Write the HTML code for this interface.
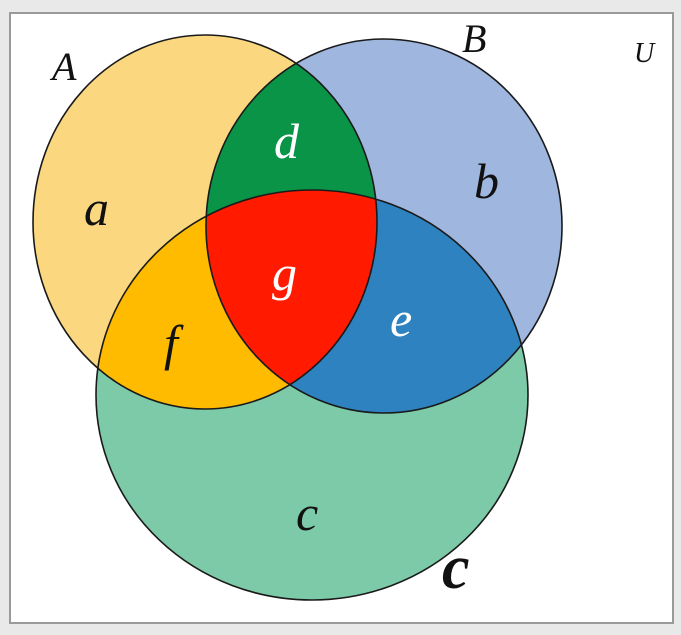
<!DOCTYPE html>
<html><head><style>
html,body{margin:0;padding:0;background:#e9e9e9;}
svg{display:block;}
text{font-family:"Liberation Serif",serif;font-style:italic;}
</style></head><body>
<svg width="681" height="635" viewBox="0 0 681 635" xmlns="http://www.w3.org/2000/svg">
<defs>
<clipPath id="cA"><ellipse cx="205" cy="222" rx="172" ry="187"/></clipPath>
<clipPath id="cB"><ellipse cx="384" cy="226" rx="178" ry="187"/></clipPath>
<clipPath id="cC"><ellipse cx="312" cy="395" rx="216" ry="205"/></clipPath>
</defs>
<rect x="0" y="0" width="681" height="635" fill="#e9e9e9"/>
<rect x="10" y="13" width="663" height="610" fill="#ffffff" stroke="#9a9a9a" stroke-width="2"/>
<ellipse cx="312" cy="395" rx="216" ry="205" fill="#7ccaa7"/>
<ellipse cx="384" cy="226" rx="178" ry="187" fill="#9fb6de"/>
<ellipse cx="205" cy="222" rx="172" ry="187" fill="#fbd880"/>
<g clip-path="url(#cA)"><ellipse cx="312" cy="395" rx="216" ry="205" fill="#ffbb00"/><ellipse cx="384" cy="226" rx="178" ry="187" fill="#0a9447"/></g>
<g clip-path="url(#cB)"><ellipse cx="312" cy="395" rx="216" ry="205" fill="#2e82bf"/></g>
<g clip-path="url(#cA)"><g clip-path="url(#cB)"><ellipse cx="312" cy="395" rx="216" ry="205" fill="#ff1a00"/></g></g>
<g fill="none" stroke="#1a1a1a" stroke-width="1.6">
<ellipse cx="205" cy="222" rx="172" ry="187"/>
<ellipse cx="384" cy="226" rx="178" ry="187"/>
<ellipse cx="312" cy="395" rx="216" ry="205"/>
</g>
<g font-size="40" fill="#111">
<text x="52" y="80">A</text>
<text x="462" y="52">B</text>
<text x="634" y="62" font-size="28">U</text>
<text x="84" y="225" font-size="50">a</text>
<text x="474" y="198" font-size="50">b</text>
<text x="164" y="360" font-size="50">f</text>
<text x="296" y="530" font-size="50">c</text>
<text x="442" y="588" font-size="62" font-weight="bold">c</text>
</g>
<g font-size="50" fill="#ffffff">
<text x="274" y="158">d</text>
<text x="272" y="290">g</text>
<text x="390" y="336">e</text>
</g>
</svg>
</body></html>
